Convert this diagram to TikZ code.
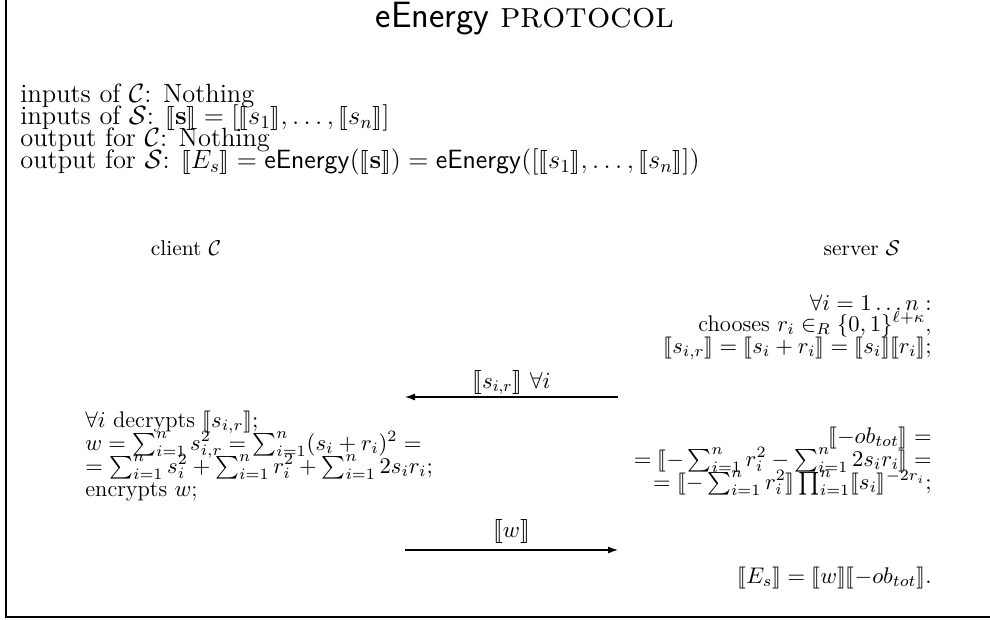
\documentclass[tikz,border=0pt]{standalone}
\usepackage{fix-cm}
\usepackage{amsmath,amssymb,stmaryrd}
\usetikzlibrary{arrows.meta}
\begin{document}
\begin{tikzpicture}[x=0.5pt,y=-0.5pt,
  titletext/.style={anchor=base,inner sep=0pt,font=\fontsize{18.3}{21}\selectfont},
  toptext/.style={anchor=base west,inner sep=0pt,font=\fontsize{13.2}{15}\selectfont},
  lefttext/.style={anchor=base west,inner sep=0pt,font=\fontsize{11.3}{13}\selectfont},
  righttext/.style={anchor=base east,inner sep=0pt,font=\fontsize{11.3}{13}\selectfont},
  party/.style={anchor=base,inner sep=0pt,font=\fontsize{10.7}{12}\selectfont},
  msg/.style={-{Latex[length=5pt,width=3.5pt]},line width=0.6pt},
  msglabel/.style={midway,anchor=base,inner sep=0pt,font=\fontsize{11.5}{13}\selectfont},
  frameline/.style={line width=0.6pt}]
\useasboundingbox (0,0) rectangle (990,620);
% frame
\coordinate (ftop) at (6,0);
\coordinate (fcorner) at (6,617);
\coordinate (fright) at (990,617);
\draw[frameline] (ftop) -- (fcorner) -- (fright);
% title
\node[titletext] (title) at (525,28) {\textsf{eEnergy} \textsc{protocol}};
% inputs / outputs
\node[toptext] (in1) at (20,103) {inputs of $\mathcal{C}$: Nothing};
\node[toptext] (in2) at (20,125) {inputs of $\mathcal{S}$: $\llbracket \mathbf{s}\rrbracket = [\llbracket s_1\rrbracket,\ldots,\llbracket s_n\rrbracket]$};
\node[toptext] (out1) at (20,147) {output for $\mathcal{C}$: Nothing};
\node[toptext] (out2) at (20,169) {output for $\mathcal{S}$: $\llbracket E_s\rrbracket = \mathsf{eEnergy}(\llbracket\mathbf{s}\rrbracket) = \mathsf{eEnergy}([\llbracket s_1\rrbracket,\ldots,\llbracket s_n\rrbracket])$};
% parties
\node[party] (client) at (186,256) {client $\mathcal{C}$};
\node[party] (server) at (862,256) {server $\mathcal{S}$};
% server step 1
\node[righttext] (r1) at (932,310) {$\forall i = 1\ldots n:$};
\node[righttext] (r2) at (932,331) {chooses $r_i \in_R \{0,1\}^{\ell+\kappa}$,};
\node[righttext] (r3) at (932,353) {$\llbracket s_{i,r}\rrbracket = \llbracket s_i + r_i\rrbracket = \llbracket s_i\rrbracket\llbracket r_i\rrbracket;$};
% message 1
\coordinate (m1s) at (618,397);
\coordinate (m1e) at (405,397);
\draw[msg] (m1s) -- node[msglabel,yshift=4.5pt] (m1l) {$\llbracket s_{i,r}\rrbracket\ \forall i$} (m1e);
% client step
\node[lefttext] (c1) at (85,427) {$\forall i$ decrypts $\llbracket s_{i,r}\rrbracket;$};
\node[lefttext] (c2) at (85,450) {$w = \sum_{i=1}^n s_{i,r}^2 = \sum_{i=1}^n (s_i+r_i)^2 =$};
\node[lefttext] (c3) at (85,473) {$= \sum_{i=1}^n s_i^2 + \sum_{i=1}^n r_i^2 + \sum_{i=1}^n 2s_ir_i;$};
\node[lefttext] (c4) at (85,496) {encrypts $w$;};
% server step 2
\node[righttext] (s1) at (932,443) {$\llbracket -ob_{tot}\rrbracket =$};
\node[righttext] (s2) at (932,466) {$= \llbracket -\sum_{i=1}^n r_i^2 - \sum_{i=1}^n 2s_ir_i\rrbracket =$};
\node[righttext] (s3) at (932,489) {$= \llbracket -\sum_{i=1}^n r_i^2\rrbracket \prod_{i=1}^n \llbracket s_i\rrbracket^{-2r_i};$};
% message 2
\coordinate (m2s) at (405,550);
\coordinate (m2e) at (618,550);
\draw[msg] (m2s) -- node[msglabel,yshift=6.5pt] (m2l) {$\llbracket w\rrbracket$} (m2e);
% final
\node[righttext] (fin) at (932,583) {$\llbracket E_s\rrbracket = \llbracket w\rrbracket\llbracket -ob_{tot}\rrbracket.$};
\end{tikzpicture}
\end{document}
